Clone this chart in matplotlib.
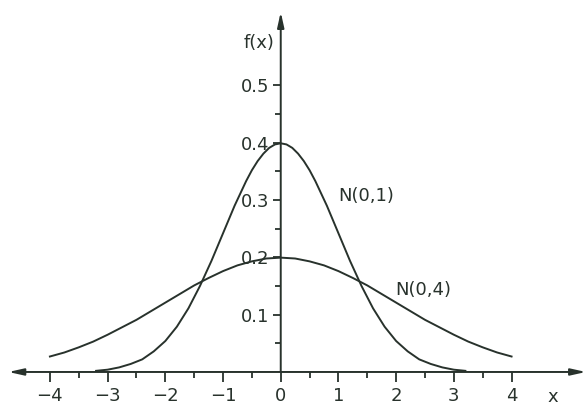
import matplotlib
matplotlib.use('Agg')
import matplotlib.pyplot as plt

# values
x_n01 = [-3.2, -3.0, -2.8, -2.6, -2.4, -2.2, -2.0, -1.8, -1.6, -1.4, -1.2, -1.0, -0.8,
         -0.6, -0.5, -0.4, -0.3, -0.2, -0.1, 0.0, 0.1, 0.2, 0.3, 0.4, 0.5, 0.6,
         0.8, 1.0, 1.2, 1.4, 1.6, 1.8, 2.0, 2.2, 2.4, 2.6, 2.8, 3.0, 3.2]
f_n01 = [0.002, 0.004, 0.008, 0.014, 0.022, 0.036, 0.054, 0.079, 0.111, 0.150, 0.194, 0.242, 0.290,
         0.333, 0.352, 0.368, 0.381, 0.391, 0.397, 0.399, 0.397, 0.391, 0.381, 0.368, 0.352, 0.333,
         0.290, 0.242, 0.194, 0.150, 0.111, 0.079, 0.054, 0.036, 0.022, 0.014, 0.008, 0.004, 0.002]

x_n04 = [-4.0, -3.75, -3.5, -3.25, -3.0, -2.75, -2.5, -2.25, -2.0, -1.75, -1.5, -1.25, -1.0,
         -0.75, -0.5, -0.25, 0.0, 0.25, 0.5, 0.75, 1.0, 1.25, 1.5, 1.75, 2.0,
         2.25, 2.5, 2.75, 3.0, 3.25, 3.5, 3.75, 4.0]
f_n04 = [0.027, 0.034, 0.043, 0.053, 0.065, 0.078, 0.091, 0.106, 0.121, 0.136, 0.151, 0.164, 0.176,
         0.186, 0.193, 0.198, 0.1995, 0.198, 0.193, 0.186, 0.176, 0.164, 0.151, 0.136, 0.121,
         0.106, 0.091, 0.078, 0.065, 0.053, 0.043, 0.034, 0.027]

x_ticks = [-4, -3, -2, -1, 0, 1, 2, 3, 4]
x_minor = [-3.5, -2.5, -1.5, -0.5, 0.5, 1.5, 2.5, 3.5]
y_ticks = [0.1, 0.2, 0.3, 0.4, 0.5]
y_minor = [0.05, 0.15, 0.25, 0.35, 0.45]

ink = '#28322c'
plt.rcParams['font.family'] = 'DejaVu Sans'

fig = plt.figure(figsize=(5.86, 4.07), dpi=100)
fig.patch.set_facecolor('white')
ax = fig.add_axes([0, 0, 1, 1])
ax.set_xlim(-4.865, 5.29)
ax.set_ylim(-0.0611, 0.649)

for s in ax.spines.values():
    s.set_visible(False)
ax.spines['left'].set_position(('data', 0))
ax.spines['bottom'].set_position(('data', 0))

ax.plot(x_n01, f_n01, color=ink, lw=1.4)
ax.plot(x_n04, f_n04, color=ink, lw=1.4)

# axes with arrow heads
ax.annotate('', xy=(5.29, 0), xytext=(-4.72, 0),
            arrowprops=dict(arrowstyle='<|-|>,head_length=0.9,head_width=0.2',
                            color=ink, lw=1.4, shrinkA=0, shrinkB=0, mutation_scale=10))
ax.annotate('', xy=(0, 0.628), xytext=(0, 0),
            arrowprops=dict(arrowstyle='-|>,head_length=0.9,head_width=0.2',
                            color=ink, lw=1.4, shrinkA=0, shrinkB=0, mutation_scale=10))

ax.set_xticks(x_ticks)
ax.set_xticks(x_minor, minor=True)
ax.set_yticks(y_ticks)
ax.set_yticks(y_minor, minor=True)
ax.set_xticklabels([str(v).replace('-', '\u2212') for v in x_ticks])
ax.set_yticklabels([f'{v:.1f}' for v in y_ticks])
ax.tick_params(axis='x', which='major', direction='out', length=7, width=1.3,
               color=ink, labelcolor=ink, labelsize=13, pad=4)
ax.tick_params(axis='x', which='minor', direction='out', length=4.3, width=1.3, color=ink)
ax.tick_params(axis='y', which='major', direction='out', length=5.5, width=1.3,
               color=ink, labelcolor=ink, labelsize=13, pad=3)
ax.tick_params(axis='y', which='minor', direction='out', length=4, width=1.3, color=ink)

ax.text(-0.1, 0.574, 'f(x)', ha='right', va='center', fontsize=13, color=ink)
ax.text(4.72, -0.044, 'x', ha='center', va='center', fontsize=13, color=ink)
ax.text(0.99, 0.307, 'N(0,1)', ha='left', va='center', fontsize=13, color=ink)
ax.text(1.98, 0.143, 'N(0,4)', ha='left', va='center', fontsize=13, color=ink)

plt.savefig('out.png', dpi=100, facecolor='white')
